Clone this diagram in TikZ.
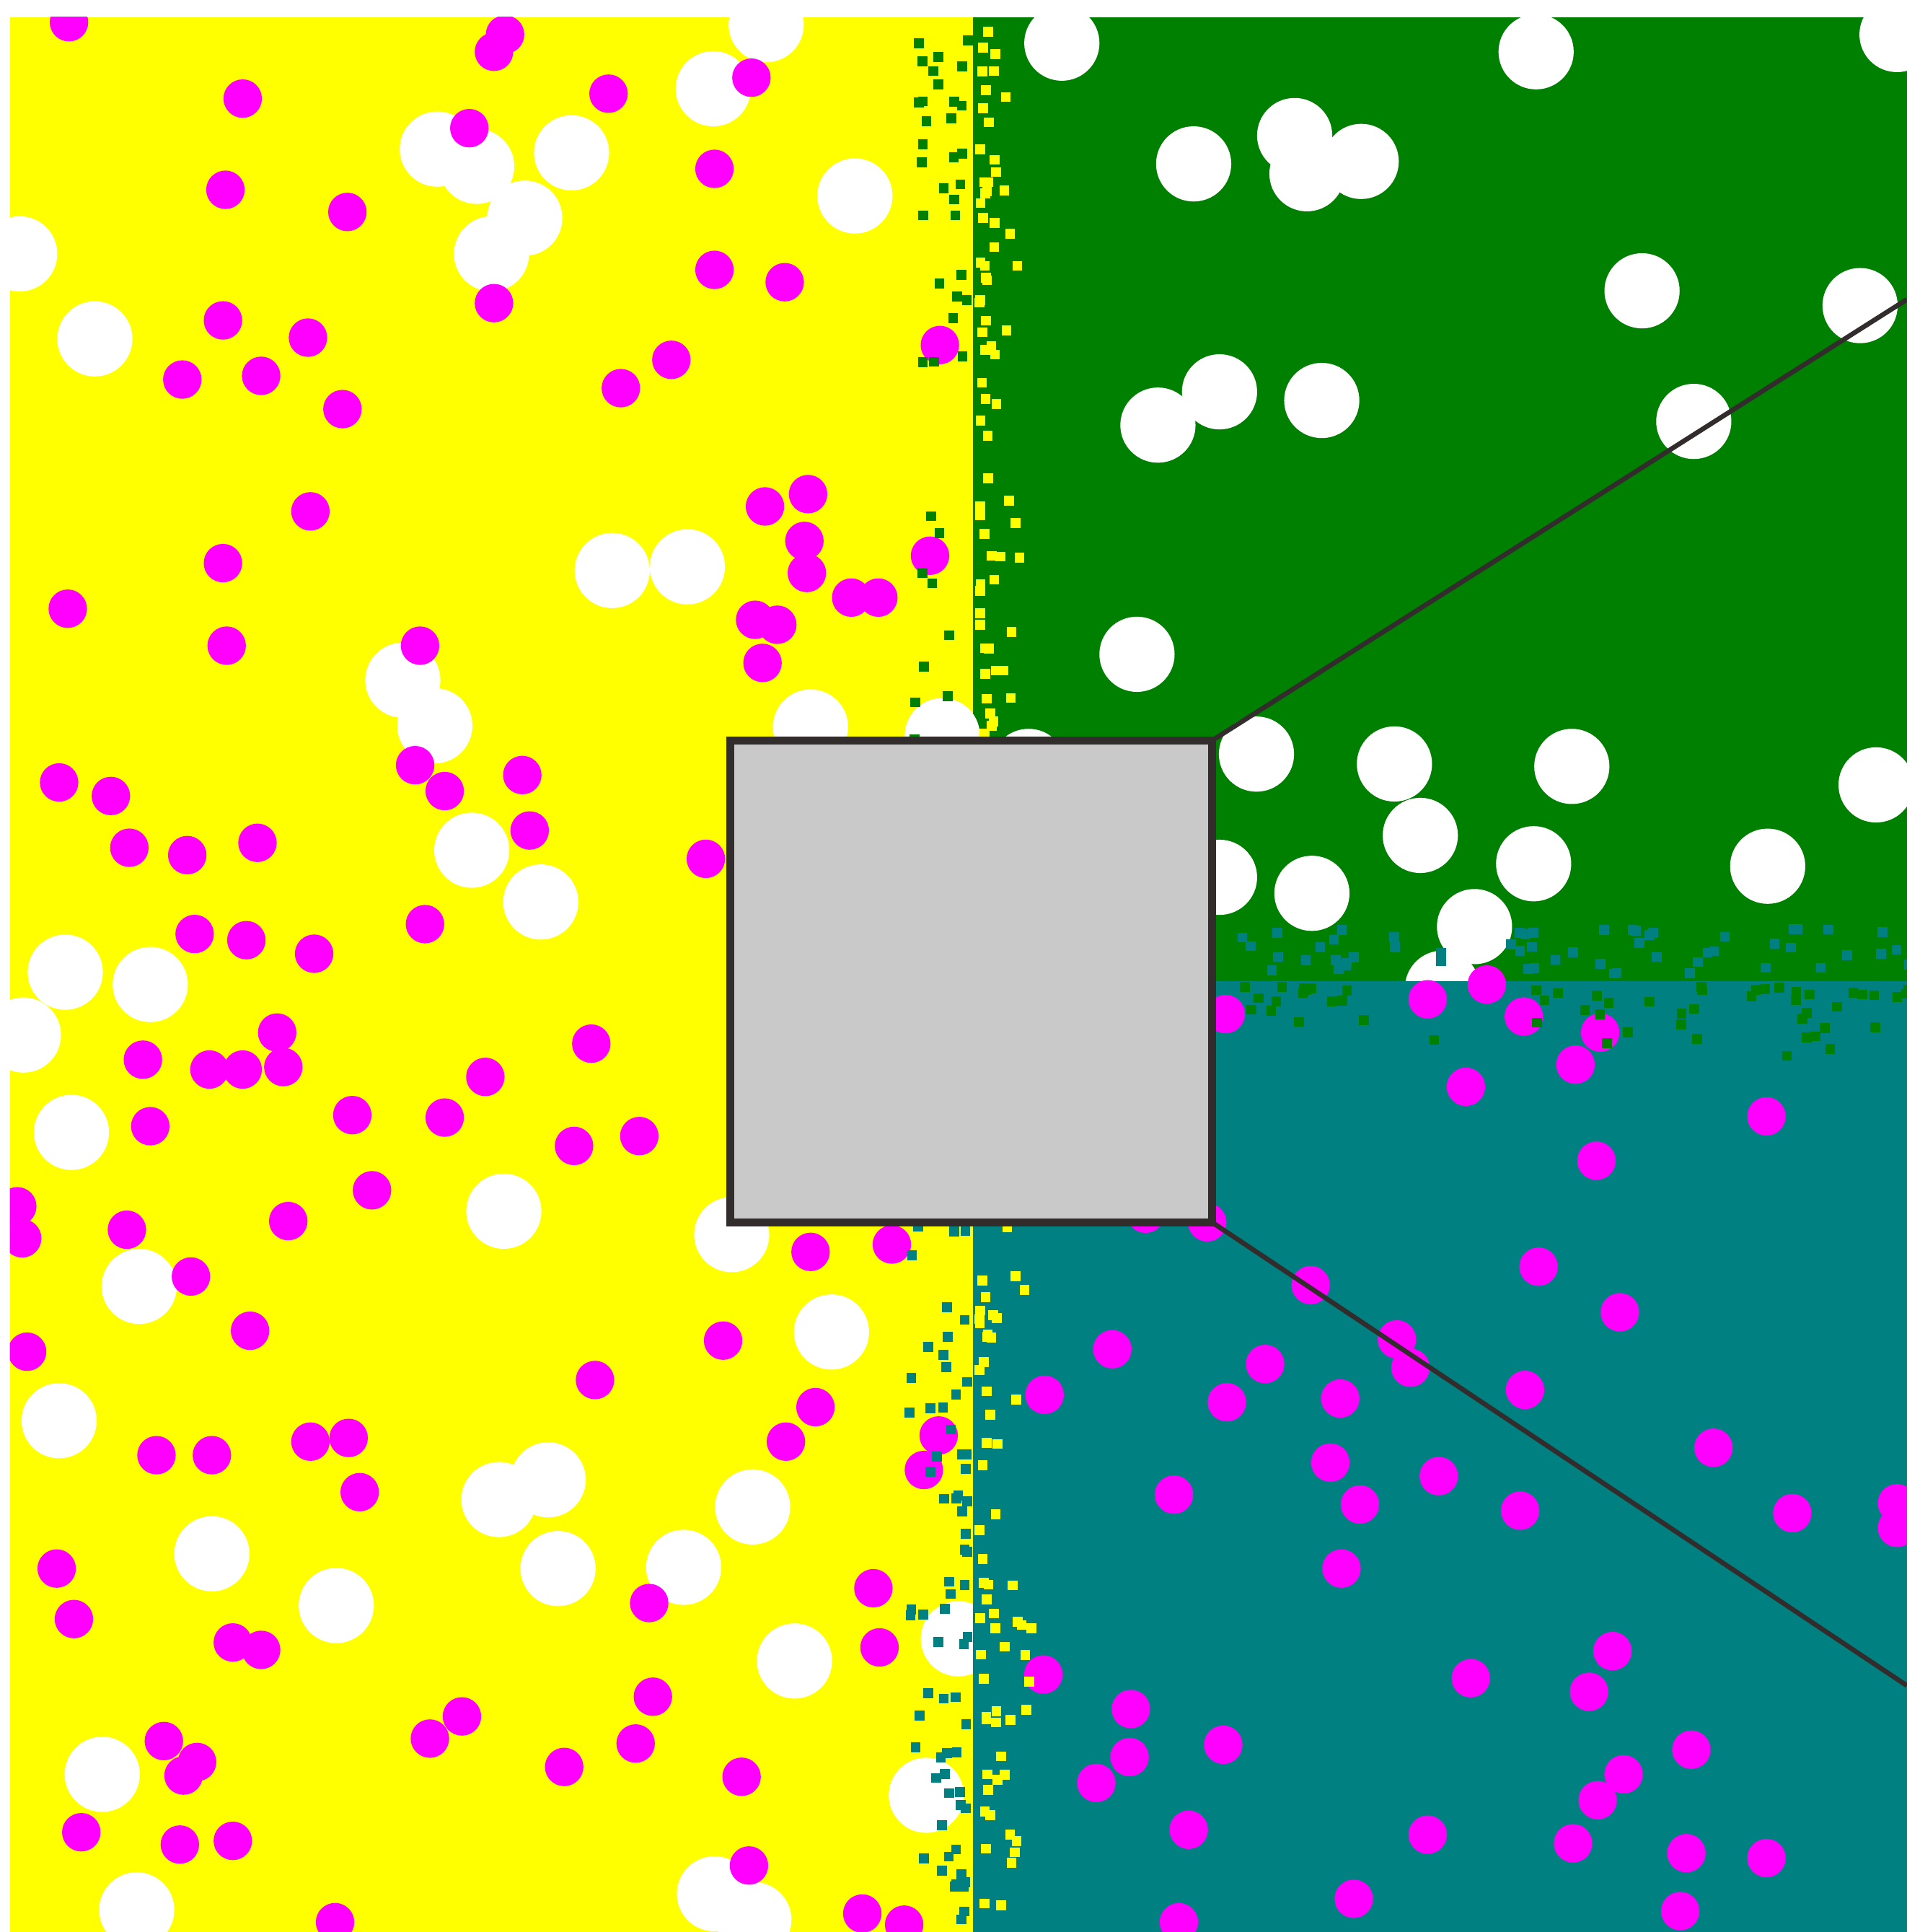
\documentclass[tikz,border=0pt]{standalone}
\definecolor{fieldyellow}{HTML}{FFFF00}
\definecolor{fieldgreen}{HTML}{008000}
\definecolor{fieldteal}{HTML}{008080}
\definecolor{dotpink}{HTML}{FF00FF}
\definecolor{boxgray}{HTML}{C8C9C8}
\definecolor{edgedark}{HTML}{332C2C}
\begin{document}
\begin{tikzpicture}[x=0.01cm, y=-0.01cm,
		pinkdot/.style={fill=dotpink, radius=1.56mm},
		whitedot/.style={fill=white, radius=3.05mm},
		zoomline/.style={draw=edgedark, line width=1.1pt}]
		\fill[white] (0,0) rectangle (1548,1568);
		\useasboundingbox (0,0) rectangle (1548,1568);
		\pgfmathsetseed{17}
		
		\begin{scope}
		\clip (8,14) rectangle (1548,1568);
		\fill[fieldyellow] (8,14) rectangle (790,1568);
		\fill[fieldgreen] (790,14) rectangle (1548,796.5);
		
		% white circles (yellow and green part)
		\foreach \x/\y in {622/20, 579/72, 355/121, 387/135, 464/124, 426/177, 399/206, 694/159,
				16/206, 77/275, 497/463, 558/460, 327/552, 353/589, 658/590, 765/597, 383/690,
				439/732, 53/789, 122/799, 19/840, 58/919, 409/983, 594/1002, 113/1044, 675/1081,
				48/1153, 445/1201, 405/1217, 611/1223, 172/1261, 273/1303, 453/1273, 555/1272,
				645/1348, 83/1440, 752/1457, 111/1550, 580/1537, 612/1558, 778/1330,
				862/35, 1247/42, 1540/28, 969/133, 1051/110, 1061/141, 1105/131, 1333/236,
				1510/248, 990/318, 940/345, 1073/325, 1375/342, 923/531, 1020/612, 1132/620,
				1276/622, 1523/637, 1153/678, 1245/701, 1435/703, 1065/725, 990/712, 835/622,
				1197/752, 1171/802}
			\fill[whitedot] (\x,\y) circle;
		
		\fill[fieldteal] (790,796.5) rectangle (1548,1568);
		
		% magenta dots (yellow and teal part)
		\foreach \x/\y in {56/18, 410/28, 401/42, 197/80, 494/76, 610/63, 381/104, 183/154,
				282/172, 580/137, 580/219, 637/229, 401/246, 181/260, 250/274, 148/308, 212/305,
				278/332, 545/292, 504/315, 763/280, 252/415, 621/411, 656/401, 653/439, 655/465,
				755/451, 691/485, 713/485, 181/457, 55/494, 184/524, 341/524, 613/503, 631/507,
				619/538, 48/635, 90/646, 105/688, 152/694, 209/684, 337/621, 361/642, 424/629,
				430/674, 573/697, 158/758, 200/763, 255/774, 345/750, 225/838, 116/860, 170/868,
				197/868, 230/866, 122/914, 286/905, 361/907, 394/874, 480/847, 466/930, 519/922,
				14/979, 18/1005, 103/998, 234/991, 302/966, 155/1036, 658/1016, 724/1010, 22/1097,
				203/1080, 587/1088, 483/1120, 662/1142, 638/1170, 762/1165, 750/1193, 127/1181,
				172/1181, 252/1170, 283/1167, 292/1211, 46/1273, 60/1314, 527/1301, 709/1289,
				714/1337, 189/1333, 212/1339, 530/1377, 375/1393, 349/1411, 516/1415, 458/1434,
				133/1413, 160/1430, 149/1441, 602/1442, 66/1487, 146/1497, 189/1494, 608/1514,
				272/1560, 700/1553, 734/1562, 930/985, 980/992}
			\fill[pinkdot] (\x,\y) circle;
		\foreach \x/\y in {995/823, 1159/811, 1207/799, 1237/825, 1299/838, 1279/864, 1190/882,
				1434/906, 1296/942, 1249/1028, 1064/1043, 1315/1065, 1134/1087, 1145/1110, 903/1095,
				1027/1107, 996/1138, 1088/1135, 1238/1128, 848/1132, 1080/1187, 1168/1198, 1104/1221,
				953/1213, 1234/1226, 1391/1175, 1455/1228, 1540/1220, 1540/1240, 1089/1273, 1309/1340,
				1194/1362, 1290/1373, 847/1359, 918/1387, 917/1426, 993/1416, 890/1447, 1373/1420,
				1318/1440, 1297/1461, 965/1485, 1159/1489, 1277/1496, 1369/1504, 1434/1508,
				1099/1541, 957/1560, 1364/1551}
			\fill[pinkdot] (\x,\y) circle;
		
		% small cells along the borders
		\foreach \i in {1,...,62} {
			\pgfmathsetmacro\sx{782-44*rnd}
			\pgfmathsetmacro\sy{14+780*rnd}
			\fill[fieldgreen] (\sx,\sy) rectangle ++(8,8);
		}
		\foreach \i in {1,...,90} {
			\pgfmathsetmacro\sx{791+38*rnd*rnd}
			\pgfmathsetmacro\sy{14+780*rnd}
			\fill[fieldyellow] (\sx,\sy) rectangle ++(8,8);
		}
		\foreach \i in {1,...,80} {
			\pgfmathsetmacro\sx{782-62*rnd*rnd}
			\pgfmathsetmacro\sy{796+770*rnd}
			\fill[fieldteal] (\sx,\sy) rectangle ++(8,8);
		}
		\foreach \i in {1,...,80} {
			\pgfmathsetmacro\sx{791+54*rnd*rnd}
			\pgfmathsetmacro\sy{796+770*rnd}
			\fill[fieldyellow] (\sx,\sy) rectangle ++(8,8);
		}
		\foreach \i in {1,...,55} {
			\pgfmathsetmacro\sx{990+556*rnd}
			\pgfmathsetmacro\sy{788-38*rnd}
			\fill[fieldteal] (\sx,\sy) rectangle ++(8,8);
		}
		\foreach \i in {1,...,55} {
			\pgfmathsetmacro\sx{990+556*rnd}
			\pgfmathsetmacro\sy{797+58*rnd*rnd}
			\fill[fieldgreen] (\sx,\sy) rectangle ++(8,8);
		}
		\end{scope}
		
		% zoomed window and its rays
		\coordinate (raytop) at (1548,243);
		\coordinate (raybot) at (1548,1368);
		\node[draw=edgedark, fill=boxgray, line width=1.9pt, minimum size=3.91cm,
			inner sep=0pt, outer sep=0pt] (window) at (788.5,796.5) {};
		\draw[zoomline] (window.north east) -- (raytop);
		\draw[zoomline] (window.south east) -- (raybot);
		\node[draw=edgedark, fill=boxgray, line width=1.9pt, minimum size=3.91cm,
			inner sep=0pt, outer sep=0pt] at (window.center) {};
\end{tikzpicture}
\end{document}
